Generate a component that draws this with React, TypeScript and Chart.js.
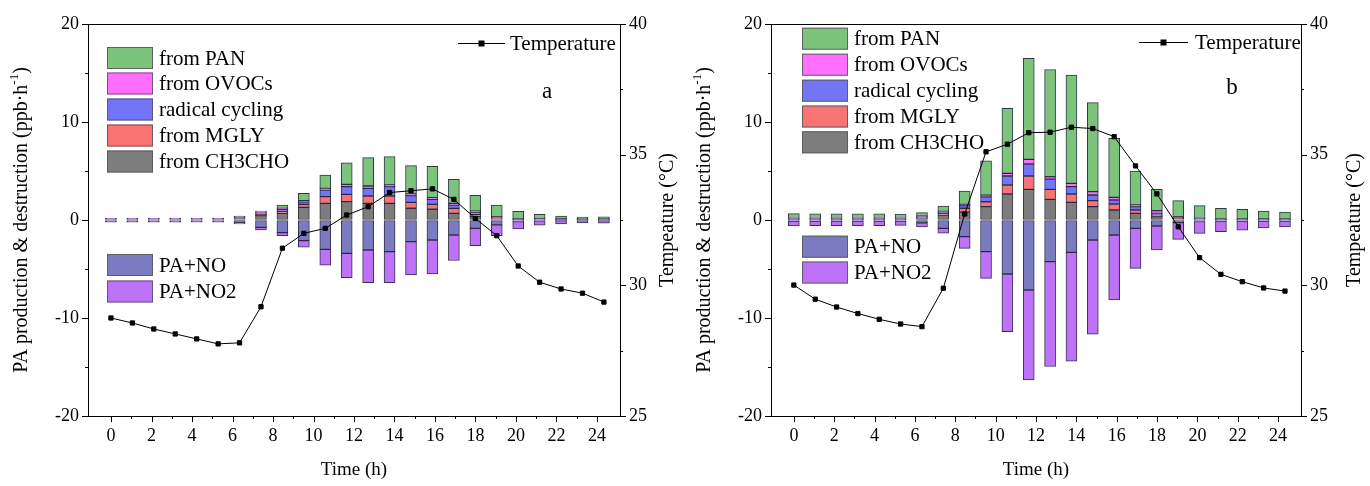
import React, { useEffect, useRef } from 'react';
import { Chart, registerables } from 'chart.js';

Chart.register(...registerables);

// Hour of day for every bar and temperature point
const HOURS = [0, 1, 2, 3, 4, 5, 6, 7, 8, 9, 10, 11, 12, 13, 14, 15, 16, 17, 18, 19, 20, 21, 22, 23];

// Tick values
const X_TICKS = [0, 2, 4, 6, 8, 10, 12, 14, 16, 18, 20, 22, 24];
const Y_TICKS = [-20, -10, 0, 10, 20];
const T_TICKS = [25, 30, 35, 40];

const SERIES_NAMES = ['from PAN', 'from OVOCs', 'radical cycling', 'from MGLY', 'from CH3CHO'];
const LOSS_NAMES = ['PA+NO', 'PA+NO2'];

// Panel a: PA production terms (ppb/h)
const A_PAN = [0.03, 0.03, 0.03, 0.03, 0.03, 0.03, 0.05, 0.1, 0.34, 0.75, 1.36, 2.2, 2.9, 2.9, 2.9, 3.2, 2.45, 1.63, 1.19, 0.75, 0.45, 0.3, 0.22, 0.24];
const A_OVOC = [0.02, 0.02, 0.02, 0.02, 0.02, 0.02, 0.05, 0.1, 0.1, 0.1, 0.17, 0.24, 0.24, 0.17, 0.17, 0.17, 0.17, 0.15, 0.06, 0.03, 0.03, 0.02, 0.02, 0.02];
const A_RAD = [0.03, 0.03, 0.03, 0.03, 0.03, 0.03, 0.08, 0.15, 0.2, 0.27, 0.68, 0.78, 0.78, 0.95, 0.68, 0.5, 0.34, 0.2, 0.08, 0.03, 0.02, 0.02, 0.02, 0.02];
const A_MGLY = [0.02, 0.02, 0.02, 0.02, 0.02, 0.02, 0.07, 0.12, 0.2, 0.3, 0.68, 0.75, 0.75, 0.75, 0.6, 0.5, 0.5, 0.2, 0.08, 0.03, 0.03, 0.02, 0.02, 0.02];
const A_CH3CHO = [0.1, 0.1, 0.1, 0.1, 0.1, 0.1, 0.15, 0.45, 0.68, 1.29, 1.7, 1.87, 1.7, 1.7, 1.2, 1.1, 0.68, 0.35, 0.12, 0.04, 0.05, 0.04, 0.03, 0.03];
// Panel a: PA destruction terms (ppb/h)
const A_NO = [-0.18, -0.18, -0.18, -0.18, -0.18, -0.18, -0.3, -0.75, -1.29, -2.1, -3.0, -3.4, -3.06, -3.23, -2.2, -2.04, -1.53, -0.85, -0.5, -0.17, -0.08, -0.06, -0.05, -0.05];
const A_NO2 = [-0.04, -0.04, -0.04, -0.04, -0.04, -0.04, -0.1, -0.25, -0.3, -0.68, -1.6, -2.48, -3.33, -3.16, -3.4, -3.47, -2.6, -1.77, -1.09, -0.75, -0.45, -0.34, -0.25, -0.27];
// Panel a: temperature (°C)
const A_TEMP = [28.75, 28.56, 28.33, 28.14, 27.95, 27.76, 27.8, 29.18, 31.42, 31.99, 32.18, 32.69, 33.01, 33.55, 33.62, 33.69, 33.29, 32.56, 31.9, 30.74, 30.12, 29.86, 29.7, 29.36];

// Panel b: PA production terms (ppb/h)
const B_PAN = [0.5, 0.48, 0.47, 0.48, 0.47, 0.45, 0.35, 0.55, 1.36, 3.5, 6.63, 10.3, 10.95, 11.05, 9.08, 6.02, 3.47, 2.18, 1.63, 1.29, 1.09, 0.99, 0.8, 0.7];
const B_OVOC = [0.03, 0.03, 0.03, 0.03, 0.03, 0.03, 0.05, 0.08, 0.13, 0.17, 0.27, 0.48, 0.24, 0.34, 0.34, 0.27, 0.17, 0.27, 0.08, 0.04, 0.03, 0.03, 0.03, 0.03];
const B_RAD = [0.03, 0.03, 0.03, 0.03, 0.03, 0.03, 0.05, 0.15, 0.27, 0.5, 0.92, 1.22, 1.05, 0.75, 0.58, 0.41, 0.34, 0.17, 0.06, 0.04, 0.02, 0.02, 0.02, 0.02];
const B_MGLY = [0.03, 0.03, 0.03, 0.03, 0.03, 0.03, 0.1, 0.15, 0.4, 0.5, 0.92, 1.36, 1.02, 0.85, 0.61, 0.61, 0.34, 0.17, 0.06, 0.04, 0.02, 0.02, 0.02, 0.02];
const B_CH3CHO = [0.06, 0.06, 0.06, 0.06, 0.06, 0.06, 0.2, 0.5, 0.8, 1.36, 2.65, 3.13, 2.1, 1.8, 1.36, 1.02, 0.68, 0.34, 0.14, 0.05, 0.03, 0.03, 0.03, 0.03];
// Panel b: PA destruction terms (ppb/h)
const B_NO = [-0.1, -0.1, -0.1, -0.1, -0.1, -0.1, -0.3, -0.85, -1.7, -3.23, -5.51, -7.14, -4.25, -3.3, -2.04, -1.53, -0.85, -0.61, -0.27, -0.15, -0.12, -0.1, -0.1, -0.1];
const B_NO2 = [-0.5, -0.48, -0.47, -0.48, -0.47, -0.45, -0.4, -0.5, -1.2, -2.72, -5.88, -9.18, -10.7, -11.1, -9.6, -6.63, -4.08, -2.45, -1.7, -1.21, -1.07, -0.95, -0.7, -0.6];
// Panel b: temperature (°C)
const B_TEMP = [30.01, 29.47, 29.17, 28.92, 28.7, 28.52, 28.42, 29.89, 32.73, 35.11, 35.4, 35.84, 35.86, 36.05, 36.0, 35.69, 34.57, 33.5, 32.24, 31.06, 30.42, 30.14, 29.9, 29.78];

const SOURCE_COLORS = ['#7cc47c', '#ff6eff', '#7474f8', '#f87474', '#7d7d7d'];
const LOSS_COLORS = ['#7b7bc2', '#bd72f7'];

const FONT = "'Liberation Serif', 'Times New Roman', serif";

type PanelCfg = {
  tag: string;
  left: number;
  leftAxis: number;
  rightAxis: number;
  rightTitleDx: number;
  tagPos: [number, number];
  legendX: number;
  legendRows: number[];
  lossRows: number[];
  tempLegend: { x1: number; x2: number; y: number; tx: number };
  pan: number[];
  ovoc: number[];
  rad: number[];
  mgly: number[];
  ch3cho: number[];
  no: number[];
  no2: number[];
  temp: number[];
};

const decorPlugin = {
  id: 'decor',
  afterDraw(chart: any, _args: any, o: any) {
    const ctx: CanvasRenderingContext2D = chart.ctx;
    const ca = chart.chartArea;
    const xs = chart.scales.xt;
    const ys = chart.scales.y;
    const ts = chart.scales.y1;
    ctx.save();
    ctx.strokeStyle = '#000';
    ctx.lineWidth = 1;

    // frame top edge
    ctx.beginPath();
    ctx.moveTo(ca.left, Math.round(ca.top) + 0.5);
    ctx.lineTo(ca.right, Math.round(ca.top) + 0.5);
    ctx.stroke();

    // tick marks (major and minor)
    ctx.beginPath();
    for (let h = 0; h <= 24; h++) {
      const px = Math.round(xs.getPixelForValue(h)) + 0.5;
      const len = h % 2 === 0 ? 6 : 3;
      ctx.moveTo(px, ca.bottom);
      ctx.lineTo(px, ca.bottom + len);
    }
    for (let v = -20; v <= 20; v += 5) {
      const py = Math.round(ys.getPixelForValue(v)) + 0.5;
      const len = v % 10 === 0 ? 6 : 3;
      ctx.moveTo(ca.left, py);
      ctx.lineTo(ca.left - len, py);
    }
    for (let v = 25; v <= 40; v += 2.5) {
      const py = Math.round(ts.getPixelForValue(v)) + 0.5;
      const len = v % 5 === 0 ? 6 : 3;
      ctx.moveTo(ca.right, py);
      ctx.lineTo(ca.right + len, py);
    }
    ctx.stroke();

    ctx.fillStyle = '#000';

    // x title
    ctx.font = `19px ${FONT}`;
    ctx.textAlign = 'center';
    ctx.textBaseline = 'middle';
    ctx.fillText('Time (h)', (ca.left + ca.right) / 2, 470);

    // left title with superscript
    const cy = (ca.top + ca.bottom) / 2;
    ctx.save();
    ctx.translate(ca.left - 66, cy);
    ctx.rotate(-Math.PI / 2);
    const main = 'PA production & destruction (ppb·h';
    ctx.font = `20px ${FONT}`;
    const wMain = ctx.measureText(main).width;
    ctx.font = `13px ${FONT}`;
    const wSup = ctx.measureText('-1').width;
    ctx.font = `20px ${FONT}`;
    const wEnd = ctx.measureText(')').width;
    const total = wMain + wSup + wEnd;
    let x0 = -total / 2;
    ctx.textAlign = 'left';
    ctx.textBaseline = 'middle';
    ctx.fillText(main, x0, 0);
    x0 += wMain;
    ctx.font = `13px ${FONT}`;
    ctx.fillText('-1', x0, -7);
    x0 += wSup;
    ctx.font = `20px ${FONT}`;
    ctx.fillText(')', x0, 0);
    ctx.restore();

    // right title
    ctx.save();
    ctx.translate(ca.right + o.rightTitleDx, cy);
    ctx.rotate(-Math.PI / 2);
    ctx.textAlign = 'center';
    ctx.textBaseline = 'middle';
    ctx.font = `20px ${FONT}`;
    ctx.fillText('Tempeature (°C)', 0, 0);
    ctx.restore();

    // panel tag
    ctx.font = `23px ${FONT}`;
    ctx.textAlign = 'center';
    ctx.textBaseline = 'middle';
    ctx.fillText(o.tag, o.tagPos[0], o.tagPos[1]);

    // legend boxes
    ctx.font = `21px ${FONT}`;
    ctx.textAlign = 'left';
    const box = (y: number, color: string, label: string) => {
      ctx.fillStyle = color;
      ctx.fillRect(o.legendX, y - 11, 46, 22);
      ctx.strokeStyle = 'rgba(90,90,90,0.9)';
      ctx.strokeRect(o.legendX + 0.5, y - 10.5, 45, 21);
      ctx.fillStyle = '#000';
      ctx.fillText(label, o.legendX + 52, y + 1);
    };
    SERIES_NAMES.forEach((n, i) => box(o.legendRows[i], SOURCE_COLORS[i], n));
    LOSS_NAMES.forEach((n, i) => box(o.lossRows[i], LOSS_COLORS[i], n));

    // temperature legend
    const tl = o.tempLegend;
    ctx.strokeStyle = '#000';
    ctx.beginPath();
    ctx.moveTo(tl.x1, tl.y + 0.5);
    ctx.lineTo(tl.x2, tl.y + 0.5);
    ctx.stroke();
    ctx.fillRect((tl.x1 + tl.x2) / 2 - 3, tl.y - 2.5, 6, 6);
    ctx.fillText('Temperature', tl.tx, tl.y + 1);

    ctx.restore();
  },
};

function Panel({ cfg }: { cfg: PanelCfg }) {
  const ref = useRef<HTMLCanvasElement | null>(null);

  useEffect(() => {
    if (!ref.current) return;
    const stackBar = (label: string, data: number[], color: string) => ({
      type: 'bar' as const,
      label,
      data,
      backgroundColor: color,
      borderColor: 'rgba(30,30,55,0.9)',
      borderWidth: 1,
      borderSkipped: false,
      barThickness: 11,
      xAxisID: 'x',
      yAxisID: 'y',
      stack: 'pa',
      order: 2,
    });

    const tickFont = { family: FONT, size: 18 };

    const chart = new Chart(ref.current, {
      type: 'bar',
      data: {
        labels: HOURS,
        datasets: [
          stackBar(SERIES_NAMES[4], cfg.ch3cho, SOURCE_COLORS[4]),
          stackBar(SERIES_NAMES[3], cfg.mgly, SOURCE_COLORS[3]),
          stackBar(SERIES_NAMES[2], cfg.rad, SOURCE_COLORS[2]),
          stackBar(SERIES_NAMES[1], cfg.ovoc, SOURCE_COLORS[1]),
          stackBar(SERIES_NAMES[0], cfg.pan, SOURCE_COLORS[0]),
          stackBar(LOSS_NAMES[0], cfg.no, LOSS_COLORS[0]),
          stackBar(LOSS_NAMES[1], cfg.no2, LOSS_COLORS[1]),
          {
            type: 'line' as const,
            label: 'Temperature',
            data: cfg.temp,
            borderColor: '#000',
            borderWidth: 1,
            pointStyle: 'rect',
            pointRadius: 3,
            pointBackgroundColor: '#000',
            pointBorderColor: '#000',
            xAxisID: 'x',
            yAxisID: 'y1',
            order: 0,
          } as any,
        ],
      },
      options: {
        responsive: false,
        animation: false,
        devicePixelRatio: 1,
        layout: { padding: { top: 24, left: 0, right: 0, bottom: 0 } },
        plugins: {
          legend: { display: false },
          tooltip: { enabled: false },
          decor: {
            tag: cfg.tag,
            tagPos: cfg.tagPos,
            rightTitleDx: cfg.rightTitleDx,
            legendX: cfg.legendX,
            legendRows: cfg.legendRows,
            lossRows: cfg.lossRows,
            tempLegend: cfg.tempLegend,
          },
        } as any,
        scales: {
          x: {
            type: 'linear',
            display: false,
            stacked: true,
            offset: false,
            grid: { offset: false },
            min: -1.07,
            max: 23.75,
          },
          xt: {
            type: 'linear',
            position: 'bottom',
            offset: false,
            min: -1.136,
            max: 25.136,
            afterBuildTicks: (s: any) => {
              s.ticks = X_TICKS.map((v) => ({ value: v }));
            },
            afterFit: (s: any) => {
              s.height = 70;
            },
            ticks: {
              font: tickFont,
              color: '#000',
              padding: 9,
              maxRotation: 0,
              autoSkip: false,
            },
            grid: { display: true, offset: false, drawOnChartArea: false, drawTicks: false },
            border: { color: '#000', width: 1 },
          },
          y: {
            type: 'linear',
            position: 'left',
            stacked: true,
            min: -20,
            max: 20,
            afterBuildTicks: (s: any) => {
              s.ticks = Y_TICKS.map((v) => ({ value: v }));
            },
            afterFit: (s: any) => {
              s.width = cfg.leftAxis;
            },
            ticks: { font: tickFont, color: '#000', padding: 9 },
            grid: { display: true, drawOnChartArea: false, drawTicks: false },
            border: { color: '#000', width: 1 },
          },
          y1: {
            type: 'linear',
            position: 'right',
            min: 25,
            max: 40,
            afterBuildTicks: (s: any) => {
              s.ticks = T_TICKS.map((v) => ({ value: v }));
            },
            afterFit: (s: any) => {
              s.width = cfg.rightAxis;
            },
            ticks: { font: tickFont, color: '#000', padding: 9 },
            grid: { display: true, drawOnChartArea: false, drawTicks: false },
            border: { color: '#000', width: 1 },
          },
        } as any,
      },
      plugins: [decorPlugin as any],
    });
    return () => chart.destroy();
  }, [cfg]);

  return (
    <div style={{ position: 'absolute', left: cfg.left, top: 0, width: 685, height: 486 }}>
      <canvas ref={ref} width={685} height={486} style={{ width: 685, height: 486, display: 'block' }} />
    </div>
  );
}

const PANEL_A: PanelCfg = {
  tag: 'a',
  left: 0,
  leftAxis: 88,
  rightAxis: 65,
  rightTitleDx: 48,
  tagPos: [547, 92],
  legendX: 107,
  legendRows: [58, 83.5, 109.5, 135.5, 161.5],
  lossRows: [265, 291.5],
  tempLegend: { x1: 458, x2: 505, y: 43, tx: 510 },
  pan: A_PAN,
  ovoc: A_OVOC,
  rad: A_RAD,
  mgly: A_MGLY,
  ch3cho: A_CH3CHO,
  no: A_NO,
  no2: A_NO2,
  temp: A_TEMP,
};

const PANEL_B: PanelCfg = {
  tag: 'b',
  left: 685,
  leftAxis: 86,
  rightAxis: 69,
  rightTitleDx: 54,
  tagPos: [547, 88],
  legendX: 117,
  legendRows: [38.7, 64.7, 90.7, 116.5, 142.3],
  lossRows: [246.7, 272.5],
  tempLegend: { x1: 454, x2: 503, y: 42, tx: 510 },
  pan: B_PAN,
  ovoc: B_OVOC,
  rad: B_RAD,
  mgly: B_MGLY,
  ch3cho: B_CH3CHO,
  no: B_NO,
  no2: B_NO2,
  temp: B_TEMP,
};

export default function App() {
  return (
    <div style={{ position: 'fixed', left: 0, top: 0, width: 1370, height: 486, background: '#fff' }}>
      <Panel cfg={PANEL_A} />
      <Panel cfg={PANEL_B} />
    </div>
  );
}
